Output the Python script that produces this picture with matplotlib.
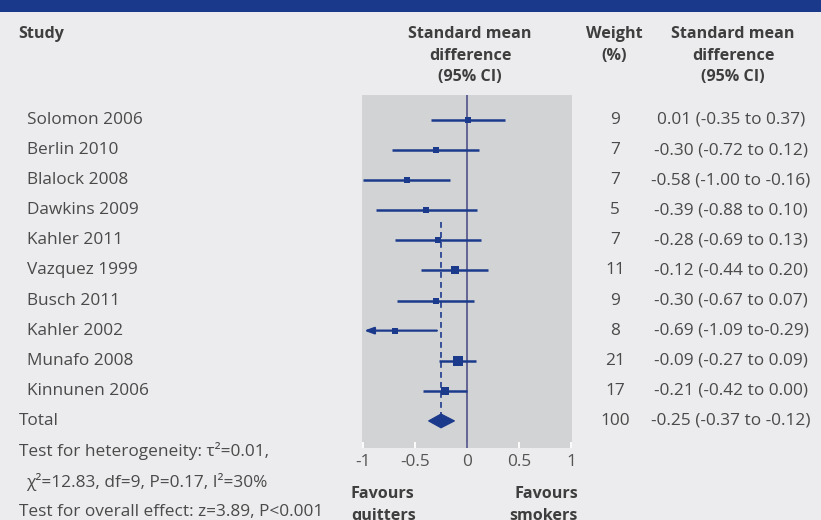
import matplotlib.pyplot as plt
from matplotlib.patches import Polygon, Rectangle
from matplotlib.transforms import blended_transform_factory

# data
studies = ["Solomon 2006", "Berlin 2010", "Blalock 2008", "Dawkins 2009", "Kahler 2011",
           "Vazquez 1999", "Busch 2011", "Kahler 2002", "Munafo 2008", "Kinnunen 2006"]
smd = [0.01, -0.30, -0.58, -0.39, -0.28, -0.12, -0.30, -0.69, -0.09, -0.21]
ci_low = [-0.35, -0.72, -1.00, -0.88, -0.69, -0.44, -0.67, -1.09, -0.27, -0.42]
ci_high = [0.37, 0.12, -0.16, 0.10, 0.13, 0.20, 0.07, -0.29, 0.09, 0.00]
weights = [9, 7, 7, 5, 7, 11, 9, 8, 21, 17]
ci_labels = ["0.01 (-0.35 to 0.37)", "-0.30 (-0.72 to 0.12)", "-0.58 (-1.00 to -0.16)",
             "-0.39 (-0.88 to 0.10)", "-0.28 (-0.69 to 0.13)", "-0.12 (-0.44 to 0.20)",
             "-0.30 (-0.67 to 0.07)", "-0.69 (-1.09 to-0.29)", "-0.09 (-0.27 to 0.09)",
             "-0.21 (-0.42 to 0.00)"]
total_smd, total_low, total_high = -0.25, -0.37, -0.12
total_weight = 100
total_label = "-0.25 (-0.37 to -0.12)"
xticks = [-1, -0.5, 0, 0.5, 1]
xticklabels = ["-1", "-0.5", "0", "0.5", "1"]

BG = "#ececee"
PANEL = "#d2d3d5"
BLUE = "#1c3a8c"
TXT = "#4a4a4a"
HEAD = "#3e3e3e"
FONT = ["Open Sans", "DejaVu Sans"]
FS = 12.4      # body text
FSH = 11.6     # bold headers

plt.rcParams["font.family"] = FONT

W, H = 821, 520
fig = plt.figure(figsize=(W / 100, H / 100), dpi=100, facecolor=BG)

# dark blue title band at the very top
fig.patches.append(Rectangle((0, 1 - 12 / H), 1, 12 / H, transform=fig.transFigure,
                             facecolor="#1b398a", edgecolor="none"))

ax = fig.add_axes([362 / W, 72 / H, 210 / W, 353 / H])
ax.set_facecolor(PANEL)
for s in ax.spines.values():
    s.set_visible(False)
ax.set_xlim(-1.01, 1.01)
ax.set_ylim(10.9, -0.83)
ax.set_yticks([])
ax.set_xticks(xticks)
ax.set_xticklabels(xticklabels)
ax.tick_params(axis="x", direction="in", length=4, width=1.3, color="white",
               labelcolor="#555555", labelsize=FS, pad=4.5)

# line of no effect
ax.axvline(0, color="#5b5b90", lw=1.3, zorder=2)

# pooled estimate (dashed)
ax.plot([total_smd, total_smd], [3.4, 10.3], color=BLUE, lw=1.2,
        dashes=(3.5, 2.5), zorder=3)

for i in range(len(studies)):
    ms = 0.72 * (4.6 + 0.22 * weights[i])
    if ci_low[i] < -1.0:
        ax.annotate("", xy=(-0.99, i), xytext=(ci_high[i], i),
                    arrowprops=dict(arrowstyle="-|>,head_length=0.55,head_width=0.2",
                                    color=BLUE, lw=1.6, shrinkA=0, shrinkB=0), zorder=4)
    else:
        ax.plot([ci_low[i], ci_high[i]], [i, i], color=BLUE, lw=1.8,
                solid_capstyle="butt", zorder=4)
    ax.plot(smd[i], i, marker="s", color=BLUE, ms=ms, mew=0, zorder=5)

# total diamond
row_t = len(studies)
dh = 0.23
ax.add_patch(Polygon([(total_low, row_t), (total_smd, row_t - dh),
                      (total_high, row_t), (total_smd, row_t + dh)],
                     closed=True, facecolor=BLUE, edgecolor=BLUE, lw=0.8, zorder=5))

# text columns: x in figure fraction, y in row units
tr = blended_transform_factory(fig.transFigure, ax.transData)


def put(x_px, row, s, **kw):
    opts = dict(fontsize=FS, color=TXT, va="center", transform=tr, clip_on=False)
    opts.update(kw)
    ax.text(x_px / W, row, s, **opts)


def head(x_px, row, s, **kw):
    put(x_px, row, s, fontsize=FSH, fontweight="bold", color=HEAD, **kw)


# headers
hrows = [-2.86, -2.14, -1.43]
head(18, hrows[0], "Study")
for r, s in zip(hrows, ["Standard mean", "difference", "(95% CI)"]):
    head(470, r, s, ha="center")
    head(733, r, s, ha="center")
head(614, hrows[0], "Weight", ha="center")
head(614, hrows[1], "(%)", ha="center")

for i, name in enumerate(studies):
    put(27, i, name)
    put(615, i, str(weights[i]), ha="center")
    put(731, i, ci_labels[i], ha="center")
put(19, row_t, "Total")
put(615, row_t, str(total_weight), ha="center")
put(731, row_t, total_label, ha="center")

# heterogeneity / overall effect notes
put(19, 11.0, "Test for heterogeneity: τ²=0.01,")
put(26, 12.03, "χ²=12.83, df=9, P=0.17, I²=30%")
put(19, 13.02, "Test for overall effect: z=3.89, P<0.001")

# favours labels
head(351, 12.42, "Favours")
head(351, 13.15, "quitters")
head(578, 12.42, "Favours", ha="right")
head(578, 13.15, "smokers", ha="right")

fig.savefig("out.png", dpi=100, facecolor=BG)
